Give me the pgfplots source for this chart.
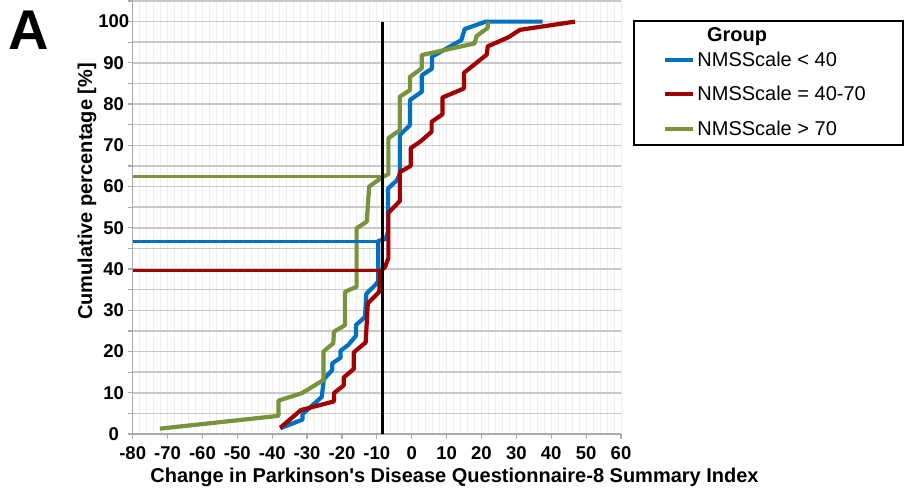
\documentclass[border=0pt]{standalone}
\usepackage{pgfplots}
\pgfplotsset{compat=1.18}
\usepackage{fontspec}
\setmainfont{Liberation Sans}
\definecolor{cblue}{RGB}{0,112,192}
\definecolor{cred}{RGB}{160,0,0}
\definecolor{cgreen}{RGB}{119,147,60}
\definecolor{gridc}{RGB}{200,200,200}
\definecolor{faint}{RGB}{238,238,238}
\definecolor{axc}{RGB}{170,170,170}
\begin{document}
\begin{tikzpicture}
\useasboundingbox (-132.7pt,-57pt) rectangle (771.3pt,434pt);
\begin{axis}[
  at={(0pt,0pt)}, anchor=south west,
  scale only axis, width=488.3pt, height=433pt,
  xmin=-80, xmax=60, ymin=0, ymax=105,
  xtick={-80,-70,...,60}, ytick={0,10,...,100},
  minor ytick={5,15,...,105},
  minor xtick={-78,-76,...,58},
  axis x line*=bottom, axis y line*=left,
  axis line style={axc, line width=1.5pt, -},
  tick align=outside,
  major tick length=5pt, minor tick length=5pt,
  every tick/.style={axc, line width=1.2pt},
  minor x tick style={draw=none},
  xmajorgrids, xminorgrids, ymajorgrids, yminorgrids,
  x grid style={faint, line width=0.8pt},
  y grid style={gridc, line width=1.5pt},
  /pgf/number format/assume math mode=true,
  ticklabel style={font=\fontsize{18.5}{20}\selectfont\bfseries, text=black},
  yticklabel style={anchor=center, xshift=-14pt},
  xticklabel style={yshift=-4pt},
  xlabel={Change in Parkinson\textquotesingle s Disease Questionnaire-8 Summary Index},
  ylabel={Cumulative percentage [\%]},
  label style={font=\fontsize{20}{22}\selectfont\bfseries},
  xlabel style={at={(axis description cs:0.659,-0.0993)}, anchor=center},
  ylabel style={at={(axis description cs:-0.0936,0.56)}, anchor=center},
  legend style={at={(axis description cs:1.0860,0.7848)}, anchor=west,
    draw=none, fill=none, inner sep=0pt,
    nodes={inner sep=2pt},
    row sep=14.5pt, font=\fontsize{20}{22}\selectfont},
  legend cell align=left,
  legend image code/.code={\draw[#1, line cap=round] (2.1pt,0pt) -- (22.9pt,0pt); \path (0pt,0pt) -- (28pt,0pt);},
]
\addplot[cblue, line width=4.2pt, line join=round] coordinates {
(-37.7,1.4) (-31.3,3.5) (-31.3,4.8) (-25.8,9.0) (-25.2,13.3) (-22.8,15.5)
(-22.8,17.1) (-20.4,18.5) (-20.4,20.2) (-18.2,21.6) (-16,23.8) (-16,26.4)
(-13.4,28.4) (-13,34) (-10.5,36.1) (-9.6,37) (-9.6,46.8) (-7.5,47.3)
(-6.8,49) (-6.8,59.5) (-4.3,61.5) (-3.4,63) (-3.4,72.5) (-0.5,74.9)
(-0.5,81) (2.9,83) (2.9,87) (5.8,88.6) (5.8,91.5) (14.2,95.5) (15.2,98.2)
(21.2,100) (37.5,100)};
\addlegendentry{NMSScale < 40}

\addplot[cred, line width=4.2pt, line join=round] coordinates {
(-37.7,1.5) (-31.8,5.8) (-22.3,7.9) (-22.3,9.9) (-19.5,11.8) (-19.5,13.7)
(-16.6,15.8) (-16.6,19.8) (-13.2,22.2) (-12.6,31.7) (-9.3,34.5) (-9.1,39.3)
(-7.6,40.6) (-6.7,42.6) (-6.7,53.6) (-3.4,56.5) (-3.4,63.5) (-0.3,65)
(-0.3,69.3) (2.6,71) (5.7,73.3) (5.7,75.7) (8.8,77.5) (8.8,81.6) (15,83.8)
(15,87.6) (21.5,92) (21.8,94) (27.7,96.2) (31,98) (46.8,100)};
\addlegendentry{NMSScale = 40-70}

\addplot[cgreen, line width=4.2pt, line join=round] coordinates {
(-72.2,1.3) (-38.2,4.4) (-38.2,8.1) (-31.5,9.9) (-25.3,13.1) (-25.3,20)
(-22.5,22) (-22.3,24.8) (-19.1,26.4) (-19.1,34.5) (-15.8,35.7) (-15.8,49.9)
(-12.9,51.5) (-12.2,60) (-8.6,62.2) (-6.7,63) (-6.7,71.7) (-3.4,73.7)
(-3.4,81.8) (-0.5,83.4) (-0.5,86.6) (2.9,88.7) (2.9,91.9) (18,94.7)
(18.6,96.5) (21.8,98.5) (21.8,100)};
\addlegendentry{NMSScale > 70}

\addplot[cblue, line width=3pt, forget plot] coordinates {(-80,46.8) (-9.4,46.8)};
\addplot[cred, line width=3pt, forget plot] coordinates {(-80,39.7) (-8.8,39.7)};
\addplot[cgreen, line width=3pt, forget plot] coordinates {(-80,62.4) (-8.3,62.4)};
\addplot[black, line width=3pt, forget plot] coordinates {(-8.4,0) (-8.4,100)};
\end{axis}
\draw[black, line width=2pt] (501.3pt,413pt) rectangle (770.3pt,289pt);
\node[font=\fontsize{20}{22}\selectfont\bfseries] at (604.3pt,397.3pt) {Group};
\node[font=\fontsize{56}{60}\selectfont\bfseries] at (-103.7pt,404pt) {A};
\end{tikzpicture}
\end{document}
